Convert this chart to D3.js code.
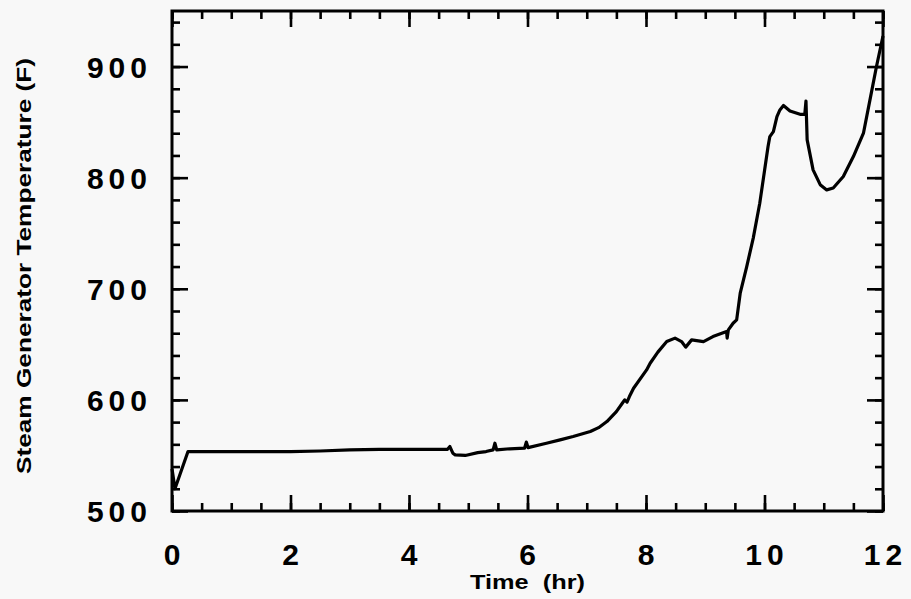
<!DOCTYPE html>
<html>
<head>
<meta charset="utf-8">
<script src="https://cdn.jsdelivr.net/npm/d3@7"></script>
<style>
  html, body { margin: 0; padding: 0; background: #f8f8f8; }
  svg { display: block; }
  text { font-family: "Liberation Sans", Arial, Helvetica, sans-serif; font-weight: bold; fill: #000; }
</style>
</head>
<body>
<svg id="chart" width="911" height="599"></svg>
<script>
// Steam generator temperature history
const hours = [0, 0.05, 0.27, 0.5, 1, 1.5, 2, 2.5, 3, 3.5, 4, 4.5, 4.65, 4.69, 4.74, 4.78, 4.95, 5.16, 5.3, 5.42,
  5.45, 5.48, 5.7, 5.95, 5.98, 6.01, 6.32, 6.55, 6.77, 7.06, 7.2, 7.34, 7.5, 7.6, 7.64, 7.68, 7.72, 7.79, 8.01, 8.07,
  8.2, 8.35, 8.49, 8.6, 8.67, 8.77, 8.97, 9.13, 9.36, 9.37, 9.39, 9.47, 9.53, 9.59, 9.7, 9.81, 9.92, 10.06, 10.09, 10.15,
  10.21, 10.26, 10.32, 10.43, 10.6, 10.68, 10.70, 10.72, 10.82, 10.94, 11.05, 11.16, 11.33, 11.5, 11.67, 11.78, 11.89, 12.0];
const tempF = [538, 520, 553.5, 553.5, 553.5, 553.5, 553.5, 554, 555, 555.5, 555.5, 555.5, 555.5, 558, 552, 550.5, 550, 552.5, 553.5, 555,
  561, 555, 556, 556.5, 562, 557, 561, 564, 567, 571.5, 575, 580.5, 589.5, 597, 600, 598, 603, 610.5, 627, 633,
  643, 652.5, 655.6, 652.5, 647.5, 654, 652.5, 657, 661.5, 655.6, 663, 669, 672, 696, 720, 745.6, 777, 828, 837, 841.5,
  855, 861, 865, 860, 857, 857, 869, 834, 807, 793.7, 789, 790.7, 801, 819, 840, 870, 900, 927.5];

const xTickLabels = [0, 2, 4, 6, 8, 10, 12];
const yTickLabels = [500, 600, 700, 800, 900];
const xMinorTicks = d3.range(0, 12.01, 0.5);
const yMinorTicks = d3.range(500, 950.01, 20);
const xTitle = "Time  (hr)";
const yTitle = "Steam Generator Temperature (F)";

const W = 911, H = 599;
const margin = { left: 172, top: 11, right: 28, bottom: 88 };
const iw = W - margin.left - margin.right;
const ih = H - margin.top - margin.bottom;

const svg = d3.select("#chart");
const g = svg.append("g").attr("transform", `translate(${margin.left},${margin.top})`);

const x = d3.scaleLinear().domain([0, 12]).range([0, iw]);
const y = d3.scaleLinear().domain([500, 950]).range([ih, 0]);

const minorLen = 8, majorLen = 16;
const xMajor = xTickLabels;
const yMajor = yTickLabels;

function styleAxis(sel) {
  sel.select(".domain").remove();
  sel.selectAll(".tick line").attr("stroke", "#000").attr("stroke-width", 2.6);
  sel.selectAll(".tick text").remove();
}

// inward ticks on all four sides
g.append("g").attr("transform", `translate(0,${ih})`)
  .call(d3.axisBottom(x).tickValues(xMinorTicks).tickSize(-minorLen)).call(styleAxis);
g.append("g").attr("transform", `translate(0,${ih})`)
  .call(d3.axisBottom(x).tickValues(xMajor).tickSize(-majorLen)).call(styleAxis);
g.append("g")
  .call(d3.axisTop(x).tickValues(xMinorTicks).tickSize(-minorLen)).call(styleAxis);
g.append("g")
  .call(d3.axisTop(x).tickValues(xMajor).tickSize(-majorLen)).call(styleAxis);
g.append("g")
  .call(d3.axisLeft(y).tickValues(yMinorTicks).tickSize(-minorLen)).call(styleAxis);
g.append("g")
  .call(d3.axisLeft(y).tickValues(yMajor).tickSize(-majorLen)).call(styleAxis);
g.append("g").attr("transform", `translate(${iw},0)`)
  .call(d3.axisRight(y).tickValues(yMinorTicks).tickSize(-minorLen)).call(styleAxis);
g.append("g").attr("transform", `translate(${iw},0)`)
  .call(d3.axisRight(y).tickValues(yMajor).tickSize(-majorLen)).call(styleAxis);

// frame
g.append("rect").attr("x", 0).attr("y", 0).attr("width", iw).attr("height", ih)
  .attr("fill", "none").attr("stroke", "#000").attr("stroke-width", 3);

// temperature trace
const line = d3.line().x((d, i) => x(hours[i])).y(d => y(d));
g.append("path").datum(tempF)
  .attr("d", line)
  .attr("fill", "none")
  .attr("stroke", "#000")
  .attr("stroke-width", 3.2)
  .attr("stroke-linejoin", "round");

// tick labels
const ls = 5;
g.selectAll(".xlab").data(xTickLabels).join("text")
  .attr("class", "xlab")
  .attr("x", d => x(d) + ls / 2)
  .attr("y", ih + 54)
  .attr("text-anchor", "middle")
  .style("font-size", "30px")
  .style("letter-spacing", ls + "px")
  .text(d => d);

g.selectAll(".ylab").data(yTickLabels).join("text")
  .attr("class", "ylab")
  .attr("x", -25 + ls)
  .attr("y", d => y(d) + 11)
  .attr("text-anchor", "end")
  .style("font-size", "30px")
  .style("letter-spacing", ls + "px")
  .text(d => d);

// axis titles
g.append("text")
  .attr("x", iw / 2)
  .attr("y", ih + 78)
  .attr("text-anchor", "middle")
  .attr("textLength", 115)
  .attr("lengthAdjust", "spacingAndGlyphs")
  .style("font-size", "20px")
  .style("white-space", "pre")
  .text(xTitle);

svg.append("text")
  .attr("transform", `translate(31,${margin.top + ih / 2 + 5}) rotate(-90)`)
  .attr("text-anchor", "middle")
  .attr("textLength", 416)
  .attr("lengthAdjust", "spacingAndGlyphs")
  .style("font-size", "21px")
  .text(yTitle);
</script>
</body>
</html>
